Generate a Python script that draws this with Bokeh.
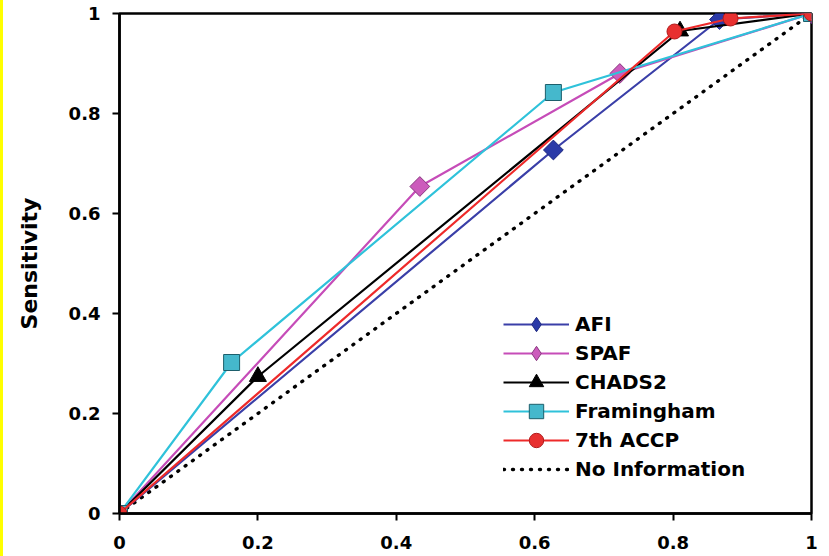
import math
from bokeh.plotting import figure
from bokeh.models import FixedTicker, Legend, LegendItem, Div, Range1d
from bokeh.layouts import row
from bokeh.embed import file_html
from bokeh.resources import INLINE

# ROC points: 1 - specificity (x) against sensitivity (y)
afi_x = [0.0, 0.627, 0.867, 1.0]
afi_y = [0.0, 0.727, 0.988, 1.0]
spaf_x = [0.0, 0.434, 0.723, 1.0]
spaf_y = [0.0, 0.654, 0.880, 1.0]
chads2_x = [0.0, 0.200, 0.810, 1.0]
chads2_y = [0.0, 0.274, 0.965, 1.0]
fram_x = [0.0, 0.162, 0.627, 1.0]
fram_y = [0.0, 0.302, 0.842, 1.0]
accp_x = [0.0, 0.802, 0.883, 1.0]
accp_y = [0.0, 0.964, 0.990, 1.0]
ref_x = [0.0, 1.0]
ref_y = [0.0, 1.0]

tick_values = [0, 0.2, 0.4, 0.6, 0.8, 1]
tick_labels = ["0", "0.2", "0.4", "0.6", "0.8", "1"]

FONT = "DejaVu Sans"

p = figure(width=826, height=556, output_backend="svg", toolbar_location=None,
           x_range=Range1d(0, 1), y_range=Range1d(0, 1),
           min_border_left=116, min_border_right=18,
           min_border_top=13, min_border_bottom=43)
p.background_fill_color = "white"
p.border_fill_color = "white"
p.grid.visible = False
p.outline_line_color = "black"
p.outline_line_width = 2.5

for ax in (p.xaxis[0], p.yaxis[0]):
    ax.ticker = FixedTicker(ticks=tick_values)
    ax.major_label_overrides = dict(zip(tick_values, tick_labels))
    ax.minor_tick_line_color = None
    ax.major_tick_in = 0
    ax.major_tick_out = 7
    ax.major_tick_line_width = 2
    ax.axis_line_width = 2.5
    ax.axis_line_color = "black"
    ax.major_tick_line_color = "black"
    ax.major_label_text_font = FONT
    ax.major_label_text_font_style = "bold"
    ax.major_label_text_font_size = "18px"
    ax.major_label_text_color = "black"

p.xaxis.major_label_standoff = 15
p.yaxis.major_label_standoff = 12
p.yaxis.axis_label = "Sensitivity"
p.yaxis.axis_label_text_font = FONT
p.yaxis.axis_label_text_font_style = "bold"
p.yaxis.axis_label_text_font_size = "22px"
p.yaxis.axis_label_text_color = "black"
p.yaxis.axis_label_standoff = 24

# name, x, y, line colour, plot marker, size, angle, legend marker, fill, outline
series = [
    ("AFI", afi_x, afi_y, "#3a3fa8", "square", 14, math.pi / 4, "diamond", "#2b3aa8", "#1f2a80"),
    ("SPAF", spaf_x, spaf_y, "#c64cb8", "square", 14, math.pi / 4, "diamond", "#cc5cbc", "#8a3a80"),
    ("CHADS2", chads2_x, chads2_y, "black", "triangle", 17, 0, "triangle", "black", "black"),
    ("Framingham", fram_x, fram_y, "#2fc2da", "square", 16, 0, "square", "#45b8cc", "#1d5f6c"),
    ("7th ACCP", accp_x, accp_y, "#ee2a2a", "circle", 15, 0, "circle", "#e83030", "#b01c1c"),
]

ref = p.line(ref_x, ref_y, line_color="black", line_width=3.4,
             line_dash="1 8", line_cap="round")

entries = []
for name, xs, ys, lc, mk, sz, ang, lmk, fc, oc in series:
    ln = p.line(xs, ys, line_color=lc, line_width=2.2)
    p.scatter(xs, ys, marker=mk, size=sz, angle=ang, fill_color=fc,
              line_color=oc, line_width=1)
    # zero-size twin: invisible in the plot, sized by the legend box in the key
    key = p.scatter(xs, ys, marker=lmk, size=0, fill_color=fc,
                    line_color=oc, line_width=1)
    entries.append(LegendItem(label=name, renderers=[ln, key]))

entries.append(LegendItem(label="No Information", renderers=[ref]))

# one key box per entry so the markers can be large while rows stay close
n = len(entries)
for k, item in enumerate(entries):
    lg = Legend(items=[item], location=(384, 26 + (n - 1 - k) * 29),
                padding=0, margin=0, spacing=0,
                glyph_width=66, glyph_height=36, label_height=36,
                label_standoff=6, border_line_color=None,
                background_fill_alpha=0,
                label_text_font=FONT, label_text_font_style="bold",
                label_text_font_size="20px", label_text_color="black")
    p.add_layout(lg, "center")

strip = Div(text="", width=3, height=556, margin=0,
            styles={"background-color": "#ffff00"})
layout = row(strip, p, spacing=0, margin=0)

open("out.html", "w").write(file_html(layout, INLINE))
